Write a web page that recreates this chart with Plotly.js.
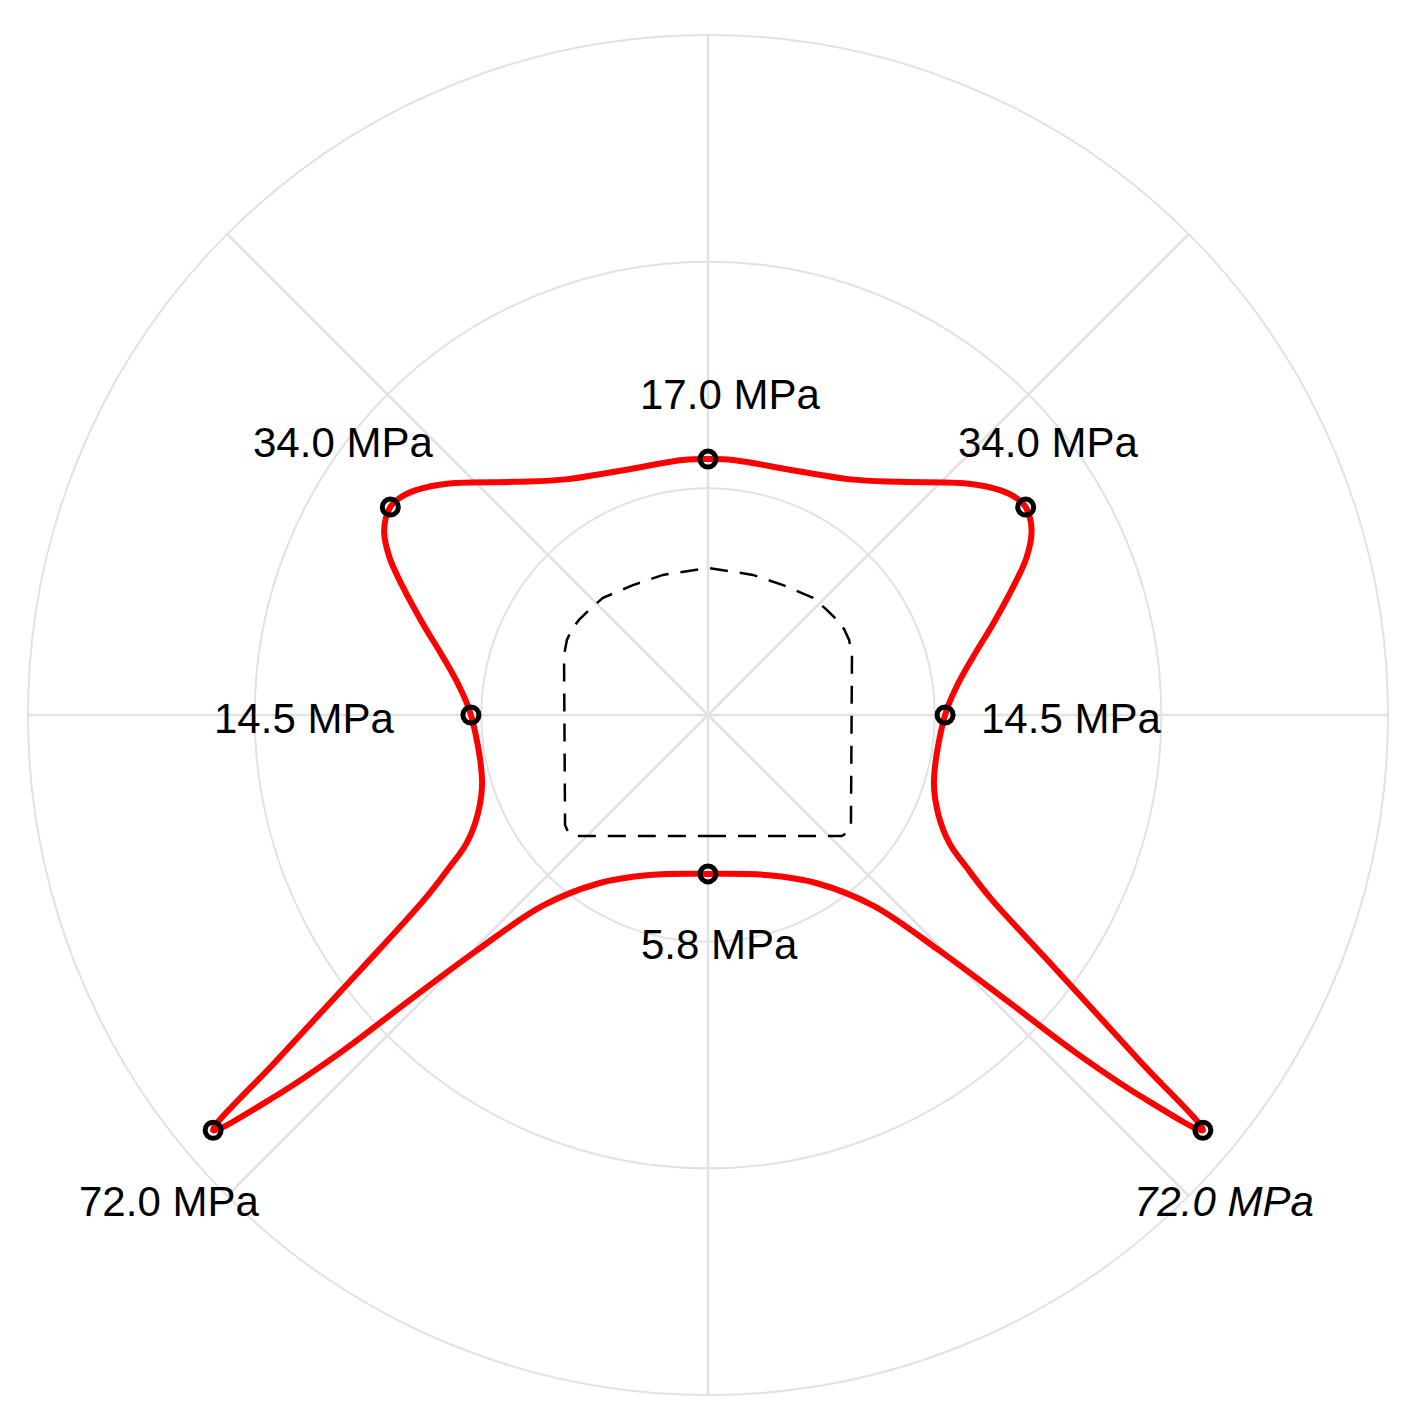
<!DOCTYPE html>
<html>
<head>
<meta charset="utf-8">
<script src="https://cdn.plot.ly/plotly-3.0.1.min.js"></script>
<style>
	html, body {margin: 0; padding: 0; background: #ffffff;}
</style>
</head>
<body>
<div id="chart" style="width:1411px;height:1415px;"></div>
<script>
//Stress envelope around the opening (angle in degrees, radius in plot units; ring spacing = 1).
let stressTheta = [
	90, 95.6, 110.7, 121.1, 129.5, 138.2, 142.4, 144.9, 146.8, 150.3, 153.6, 157.2, 162.2, 167.6, 173.5,
	180, 196.2, 203.3, 208.1, 210.5, 212.9, 216.3, 218.7, 220,
	221.4, 222.6, 223.7, 225.5, 229.1, 237.1, 249.9, 270,
	290.1, 302.9, 310.9, 314.5, 316.3, 317.4, 318.6, 320,
	321.3, 323.8, 327.1, 329.5, 331.9, 336.7, 343.8, 360,
	6.5, 12.4, 17.8, 22.8, 26.4, 29.8, 33.2, 35.1, 37.6, 41.8, 50.5, 58.9, 69.3, 84.4, 90
]
let stressR = [
	1.129, 1.130, 1.148, 1.214, 1.333, 1.532, 1.626, 1.664, 1.675, 1.645, 1.570, 1.461, 1.322, 1.198, 1.104,
	1.046, 1.038, 1.106, 1.210, 1.324, 1.481, 1.908, 2.441, 2.850,
	2.540, 2.189, 1.824, 1.459, 1.113, 0.884, 0.752, 0.701,
	0.752, 0.884, 1.113, 1.459, 1.824, 2.189, 2.540, 2.850,
	2.441, 1.908, 1.481, 1.324, 1.210, 1.106, 1.038, 1.046,
	1.104, 1.198, 1.322, 1.461, 1.570, 1.645, 1.675, 1.664, 1.626, 1.532, 1.333, 1.214, 1.148, 1.130, 1.129
]

//Measured points on the envelope and their stresses (MPa).
let pointTheta = [90, 146.8, 180, 220, 270, 320, 0, 33.2]
let pointR = [1.129, 1.675, 1.046, 2.850, 0.701, 2.850, 1.046, 1.675]
let pointStress = [17.0, 34.0, 14.5, 72.0, 5.8, 72.0, 14.5, 34.0]

//Label centres in page pixels (some sit outside the outer ring, so they are annotations).
let labelX = [730, 342.5, 303.5, 169, 719, 1224, 1071, 1047.5]
let labelY = [394, 442, 718, 1201, 944, 1201.5, 718, 442]

//Opening outline (dashed).
let openingTheta = [
	270, 317.9, 320.1, 322.4, 22.6, 28.0, 32.3, 36.4, 41.4, 48.1, 60.0, 72.2, 90,
	107.8, 120.0, 131.9, 138.6, 143.6, 147.7, 152.0, 157.4, 217.6, 219.9, 222.1, 270
]
let openingR = [
	0.534, 0.796, 0.805, 0.796, 0.688, 0.705, 0.710, 0.707, 0.700, 0.694, 0.662, 0.649, 0.649,
	0.649, 0.662, 0.694, 0.700, 0.707, 0.710, 0.705, 0.688, 0.796, 0.805, 0.796, 0.534
]

const W = 1411
const H = 1415

let annotations = pointStress.map((s, i) => {
	let txt = s.toFixed(1) + " MPa"
	//The lower right one is set in italics in the original.
	if (i === 5) {txt = "<i>" + txt + "</i>"}
	return {
		text: txt,
		xref: "paper",
		yref: "paper",
		x: labelX[i] / W,
		y: 1 - labelY[i] / H,
		xanchor: "center",
		yanchor: "middle",
		showarrow: false,
		font: {family: "Liberation Sans, Arial, sans-serif", size: 42, color: "#000000"}
	}
})

let data = [
	{
		type: "scatterpolar",
		theta: openingTheta,
		r: openingR,
		mode: "lines",
		line: {color: "#000000", width: 2.5, dash: "18px,12px"},
		hoverinfo: "skip"
	},
	{
		type: "scatterpolar",
		theta: stressTheta,
		r: stressR,
		mode: "lines",
		line: {color: "#ff0000", width: 6, shape: "spline", smoothing: 1, simplify: false},
		hoverinfo: "skip"
	},
	{
		type: "scatterpolar",
		theta: pointTheta,
		r: pointR,
		mode: "markers",
		marker: {symbol: "circle-open", size: 16, color: "#000000", line: {width: 5, color: "#000000"}},
		hoverinfo: "skip"
	}
]

let gridColor = "#e2e2e2"

let layout = {
	width: W,
	height: H,
	margin: {l: 0, r: 0, t: 0, b: 0},
	paper_bgcolor: "#ffffff",
	showlegend: false,
	annotations: annotations,
	polar: {
		domain: {x: [28 / W, 1388 / W], y: [20 / H, 1380 / H]},
		bgcolor: "#ffffff",
		radialaxis: {
			range: [0, 3],
			tickvals: [1, 2, 3],
			showticklabels: false,
			ticks: "",
			showline: false,
			gridcolor: gridColor,
			gridwidth: 2
		},
		angularaxis: {
			tickvals: [0, 45, 90, 135, 180, 225, 270, 315],
			showticklabels: false,
			ticks: "",
			showline: true,
			linecolor: gridColor,
			linewidth: 2,
			gridcolor: gridColor,
			gridwidth: 2.5
		}
	}
}

Plotly.newPlot("chart", data, layout, {displayModeBar: false, staticPlot: true})
</script>
</body>
</html>
